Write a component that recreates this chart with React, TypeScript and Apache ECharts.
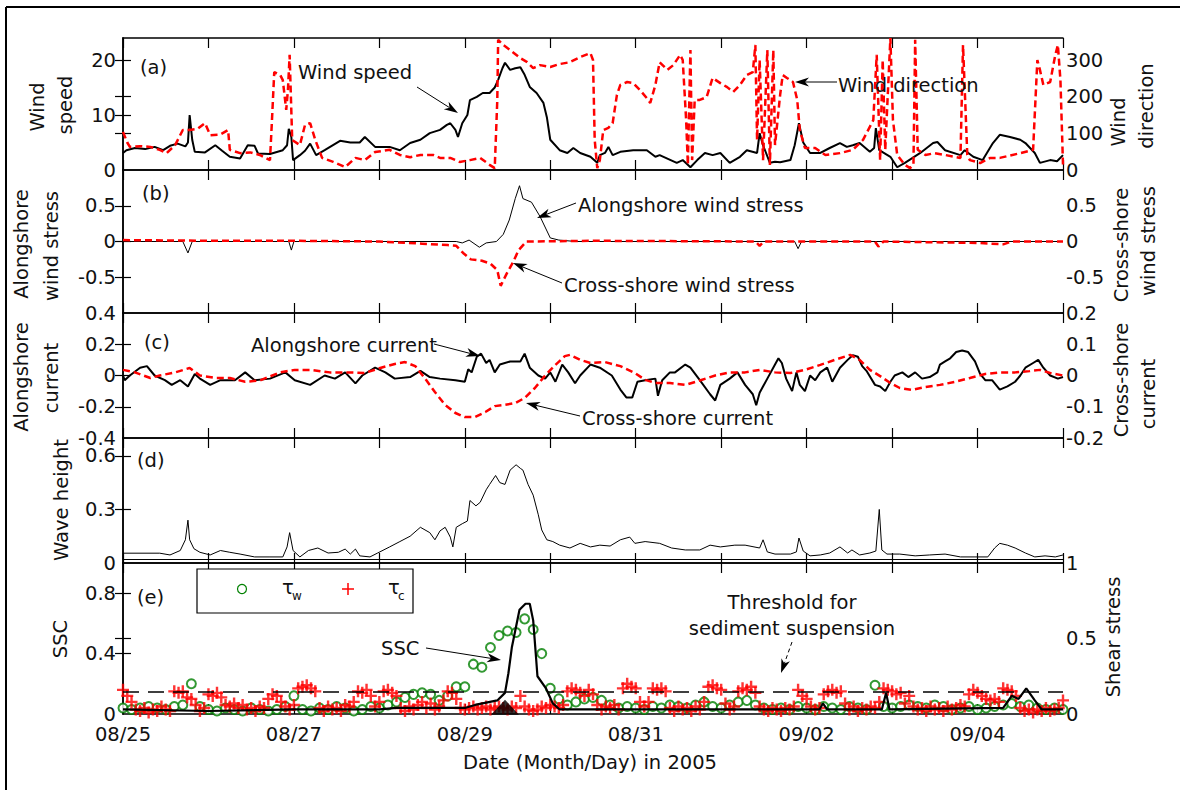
import React, { useEffect, useRef } from "react";
import * as echarts from "echarts";

const FONT = "DejaVu Sans";
const FS = 19.5;

// x axis: days since 08/25 00:00
const X_MIN = 0;
const X_MAX = 11;
const DATE_LABELS = ["08/25", "", "08/27", "", "08/29", "", "08/31", "", "09/02", "", "09/04", ""];

// (a) wind speed (m/s) and wind direction (deg)
const WIND_SPEED = [
  [0.00, 3.1], [0.04, 3.6], [0.14, 4.0], [0.26, 3.8], [0.37, 4.2], [0.47, 3.6], [0.55, 4.4], [0.64, 4.8], [0.73, 4.3], [0.76, 5.0],
  [0.78, 10.0], [0.81, 5.5], [0.84, 3.3], [0.96, 3.2], [1.08, 4.5], [1.16, 3.5], [1.25, 2.4], [1.37, 2.1], [1.46, 4.5], [1.54, 4.4],
  [1.58, 3.0], [1.72, 2.9], [1.87, 3.6], [1.92, 4.5], [1.94, 7.5], [1.97, 6.0], [1.99, 1.8], [2.07, 2.7], [2.13, 3.5], [2.19, 4.8],
  [2.26, 2.7], [2.36, 3.6], [2.54, 5.3], [2.66, 5.0], [2.77, 5.0], [2.83, 6.0], [2.95, 4.2], [3.12, 4.2], [3.24, 3.6], [3.36, 4.9],
  [3.48, 5.5], [3.59, 6.7], [3.71, 7.3], [3.79, 8.2], [3.83, 8.5], [3.89, 7.3], [3.92, 6.0], [3.97, 8.5], [4.03, 10.0], [4.06, 12.7],
  [4.14, 13.3], [4.21, 14.0], [4.29, 14.0], [4.35, 15.0], [4.39, 16.4], [4.44, 18.5], [4.47, 19.5], [4.53, 18.2], [4.59, 18.5], [4.65, 18.7],
  [4.70, 17.3], [4.76, 15.1], [4.84, 14.0], [4.92, 12.2], [4.96, 9.6], [5.00, 5.5], [5.11, 3.6], [5.20, 3.1], [5.27, 4.0], [5.35, 3.1],
  [5.47, 2.4], [5.55, 1.3], [5.58, 2.7], [5.64, 3.1], [5.68, 4.2], [5.73, 2.7], [5.82, 3.3], [5.97, 3.6], [6.13, 3.6], [6.23, 2.4],
  [6.28, 2.7], [6.48, 1.3], [6.55, 1.8], [6.64, 0.5], [6.72, 1.8], [6.81, 3.1], [6.90, 2.7], [6.99, 3.1], [7.10, 1.3], [7.22, 2.4],
  [7.30, 3.6], [7.42, 3.1], [7.45, 6.7], [7.49, 4.5], [7.57, 1.3], [7.63, 1.5], [7.69, 1.4], [7.81, 1.8], [7.86, 4.5], [7.91, 8.5],
  [7.96, 5.0], [8.04, 3.1], [8.16, 3.1], [8.27, 4.0], [8.39, 4.9], [8.47, 4.2], [8.54, 4.5], [8.62, 4.9], [8.74, 3.3], [8.79, 4.0],
  [8.81, 7.6], [8.85, 3.6], [8.98, 2.4], [9.06, 0.5], [9.15, 1.3], [9.33, 3.1], [9.48, 4.9], [9.53, 5.1], [9.62, 3.6], [9.80, 2.7],
  [9.85, 3.6], [9.95, 2.4], [10.06, 1.8], [10.18, 4.9], [10.26, 6.4], [10.38, 6.0], [10.50, 5.5], [10.56, 4.9], [10.67, 3.1], [10.73, 1.3],
  [10.85, 1.8], [10.93, 1.6], [11.00, 2.7],
];

const WIND_DIR = [
  [0.00, 104], [0.05, 75], [0.08, 63], [0.20, 65], [0.32, 63], [0.43, 55], [0.51, 46], [0.61, 68], [0.70, 109], [0.78, 109],
  [0.87, 112], [0.96, 128], [1.02, 95], [1.14, 97], [1.23, 109], [1.25, 55], [1.37, 46], [1.49, 48], [1.60, 41], [1.72, 27],
  [1.74, 120], [1.77, 267], [1.84, 259], [1.87, 245], [1.91, 164], [1.93, 218], [1.95, 314], [1.98, 82], [2.07, 68], [2.13, 123],
  [2.19, 128], [2.25, 82], [2.33, 33], [2.46, 22], [2.60, 8], [2.72, 33], [2.83, 27], [2.95, 49], [3.12, 55], [3.24, 41],
  [3.36, 35], [3.48, 41], [3.63, 41], [3.71, 33], [3.83, 33], [3.94, 22], [4.06, 27], [4.18, 33], [4.29, 14], [4.35, 5],
  [4.38, 191], [4.39, 355], [4.45, 341], [4.53, 327], [4.65, 305], [4.73, 294], [4.80, 278], [4.88, 286], [5.00, 281], [5.11, 289],
  [5.23, 294], [5.35, 308], [5.47, 319], [5.50, 300], [5.52, 82], [5.55, 5], [5.58, 27], [5.62, 109], [5.68, 115], [5.73, 128],
  [5.78, 205], [5.82, 232], [5.90, 240], [5.97, 237], [6.05, 218], [6.13, 196], [6.17, 183], [6.23, 232], [6.28, 294], [6.37, 273],
  [6.44, 286], [6.52, 314], [6.55, 300], [6.59, 136], [6.61, 14], [6.64, 327], [6.66, 27], [6.69, 191], [6.75, 191], [6.83, 199],
  [6.90, 251], [6.99, 237], [7.07, 226], [7.14, 213], [7.22, 232], [7.30, 259], [7.37, 267], [7.40, 341], [7.42, 82], [7.45, 300],
  [7.49, 27], [7.54, 327], [7.57, 14], [7.61, 327], [7.63, 68], [7.69, 205], [7.72, 259], [7.77, 251], [7.84, 240], [7.89, 191],
  [7.92, 109], [7.98, 60], [8.10, 60], [8.22, 41], [8.39, 46], [8.54, 55], [8.66, 82], [8.78, 136], [8.82, 314], [8.86, 27],
  [8.89, 300], [8.92, 55], [8.98, 360], [9.01, 136], [9.06, 41], [9.15, 14], [9.21, 5], [9.25, 14], [9.27, 355], [9.30, 55],
  [9.39, 41], [9.50, 46], [9.62, 41], [9.80, 33], [9.83, 341], [9.88, 41], [9.91, 27], [10.03, 19], [10.15, 33], [10.26, 33],
  [10.50, 46], [10.65, 55], [10.70, 300], [10.73, 273], [10.77, 232], [10.85, 240], [10.91, 314], [10.94, 341], [10.97, 245], [11.00, 14],
];

// (b) wind stress
const ALONG_STRESS = [
  [0.00, 0], [0.70, 0], [0.76, -0.16], [0.81, 0], [1.94, 0], [1.97, -0.12], [2.00, 0], [3.90, 0], [3.97, -0.02], [4.05, 0.02],
  [4.17, -0.08], [4.25, -0.02], [4.37, 0], [4.45, 0.1], [4.52, 0.3], [4.59, 0.6], [4.64, 0.78], [4.68, 0.6], [4.78, 0.55], [4.88, 0.35],
  [5.00, 0.05], [5.10, 0.02], [5.30, 0], [7.86, 0], [7.90, -0.1], [7.94, 0], [11.00, 0],
];
const CROSS_STRESS = [
  [0.00, 0.02], [1.00, 0.01], [2.00, 0.01], [3.00, 0], [3.50, -0.03], [3.80, -0.05], [3.90, -0.06], [3.98, -0.16], [4.07, -0.25], [4.20, -0.27],
  [4.30, -0.31], [4.38, -0.4], [4.42, -0.62], [4.49, -0.45], [4.56, -0.3], [4.63, -0.12], [4.72, 0], [5.50, 0.01], [7.40, 0], [7.45, -0.06],
  [7.50, 0], [8.80, 0], [8.84, -0.07], [8.90, 0], [10.00, -0.02], [10.30, -0.04], [10.40, 0], [11.00, 0],
];

// (c) currents
const ALONG_CURRENT = [
  [0.00, 0], [0.02, -0.03], [0.08, 0], [0.20, 0.05], [0.28, 0.06], [0.37, 0], [0.49, -0.03], [0.57, -0.06], [0.67, -0.03], [0.76, -0.07],
  [0.84, 0.01], [0.90, -0.02], [1.02, -0.06], [1.14, -0.03], [1.31, -0.03], [1.43, 0.02], [1.54, -0.03], [1.72, -0.02], [1.90, 0.02], [2.01, -0.03],
  [2.19, -0.06], [2.36, 0], [2.48, -0.02], [2.60, 0.02], [2.72, -0.05], [2.80, 0], [2.95, 0.05], [3.07, 0.02], [3.18, -0.02], [3.36, -0.01],
  [3.48, 0.03], [3.59, -0.01], [3.71, -0.02], [3.89, -0.03], [4.00, -0.04], [4.04, 0.04], [4.08, 0.02], [4.14, 0.12], [4.19, 0.14], [4.25, 0.08],
  [4.29, 0.10], [4.35, 0.02], [4.41, 0.07], [4.53, 0.09], [4.65, 0.09], [4.70, 0.14], [4.76, 0.05], [4.86, 0], [4.94, -0.02], [5.00, 0.02],
  [5.06, -0.04], [5.14, 0.07], [5.21, 0.02], [5.29, -0.05], [5.35, 0], [5.47, 0.07], [5.58, 0.05], [5.72, 0], [5.82, -0.09], [5.89, -0.14],
  [5.96, -0.14], [6.02, -0.04], [6.11, -0.03], [6.23, -0.02], [6.26, -0.13], [6.31, -0.03], [6.40, 0.02], [6.46, 0.02], [6.58, 0.07], [6.64, 0.05],
  [6.75, -0.03], [6.87, -0.12], [6.93, -0.16], [6.99, -0.06], [7.10, -0.02], [7.19, 0.02], [7.28, -0.06], [7.37, -0.12], [7.41, -0.19], [7.45, -0.11],
  [7.54, -0.02], [7.63, 0.07], [7.67, 0.11], [7.71, 0.08], [7.76, -0.02], [7.83, -0.1], [7.88, 0.02], [7.92, -0.06], [7.98, -0.1], [8.04, 0],
  [8.10, -0.03], [8.16, 0.02], [8.24, 0.05], [8.30, -0.04], [8.39, 0.05], [8.48, 0.1], [8.54, 0.13], [8.60, 0.12], [8.65, 0.06], [8.70, 0.03],
  [8.80, -0.06], [8.86, -0.07], [8.92, -0.1], [8.98, -0.04], [9.03, 0], [9.12, 0.02], [9.19, -0.01], [9.27, 0.02], [9.35, -0.02], [9.44, -0.01],
  [9.53, 0.02], [9.56, 0.07], [9.62, 0.09], [9.68, 0.11], [9.75, 0.15], [9.82, 0.16], [9.89, 0.15], [9.97, 0.09], [10.03, 0.01], [10.09, -0.03],
  [10.17, -0.03], [10.26, -0.09], [10.35, -0.07], [10.44, -0.04], [10.50, 0], [10.56, 0.05], [10.65, 0.08], [10.71, 0.10], [10.77, 0.05], [10.85, 0],
  [10.94, -0.02], [11.00, -0.01],
];
const CROSS_CURRENT = [
  [0.00, 0.018], [0.14, 0.01], [0.32, -0.008], [0.43, 0], [0.61, 0.01], [0.78, 0.024], [0.90, 0], [1.08, -0.008], [1.25, -0.008], [1.43, -0.02],
  [1.60, -0.016], [1.84, 0.01], [2.01, 0.018], [2.19, 0.018], [2.42, 0.01], [2.66, 0.01], [2.83, 0.008], [3.01, 0.024], [3.18, 0.037], [3.30, 0.043],
  [3.42, 0.03], [3.53, -0.008], [3.65, -0.053], [3.77, -0.094], [3.89, -0.12], [4.00, -0.133], [4.12, -0.133], [4.24, -0.117], [4.35, -0.098], [4.47, -0.094],
  [4.59, -0.088], [4.70, -0.072], [4.82, -0.04], [4.94, 0], [5.06, 0.034], [5.17, 0.062], [5.23, 0.066], [5.35, 0.05], [5.47, 0.04], [5.64, 0.043],
  [5.82, 0.03], [5.99, 0.008], [6.11, -0.014], [6.23, -0.024], [6.40, -0.024], [6.58, -0.03], [6.75, -0.016], [6.93, 0], [7.10, 0.01], [7.28, 0.01],
  [7.45, 0.018], [7.63, 0.01], [7.81, 0.008], [7.98, 0.018], [8.16, 0.034], [8.33, 0.05], [8.51, 0.066], [8.62, 0.05], [8.74, 0.018], [8.86, -0.002],
  [8.98, -0.024], [9.09, -0.04], [9.23, -0.046], [9.39, -0.037], [9.56, -0.03], [9.74, -0.02], [9.91, -0.008], [10.09, 0.005], [10.26, 0.01], [10.44, 0.01],
  [10.61, 0.014], [10.73, 0.018], [10.85, 0.008], [11.00, 0],
];

// (d) wave height
const WAVE_HEIGHT = [
  [0.00, 0.055], [0.43, 0.055], [0.55, 0.045], [0.67, 0.07], [0.73, 0.13], [0.76, 0.24], [0.78, 0.13], [0.83, 0.08], [0.90, 0.06], [1.02, 0.045],
  [1.14, 0.07], [1.25, 0.06], [1.37, 0.05], [1.54, 0.034], [1.72, 0.034], [1.87, 0.034], [1.92, 0.09], [1.95, 0.17], [1.99, 0.07], [2.07, 0.034],
  [2.17, 0.07], [2.28, 0.084], [2.40, 0.056], [2.52, 0.06], [2.60, 0.078], [2.66, 0.05], [2.72, 0.078], [2.77, 0.04], [2.89, 0.034], [2.98, 0.056],
  [3.12, 0.09], [3.24, 0.12], [3.36, 0.15], [3.48, 0.2], [3.59, 0.17], [3.65, 0.13], [3.71, 0.18], [3.77, 0.2], [3.83, 0.145], [3.86, 0.09],
  [3.90, 0.2], [3.97, 0.22], [4.03, 0.235], [4.06, 0.35], [4.13, 0.32], [4.18, 0.34], [4.25, 0.41], [4.29, 0.44], [4.36, 0.49], [4.41, 0.45],
  [4.47, 0.44], [4.53, 0.52], [4.60, 0.55], [4.65, 0.53], [4.68, 0.52], [4.74, 0.44], [4.80, 0.38], [4.86, 0.27], [4.90, 0.185], [4.96, 0.13],
  [5.03, 0.12], [5.11, 0.1], [5.23, 0.084], [5.35, 0.11], [5.47, 0.09], [5.58, 0.1], [5.70, 0.095], [5.82, 0.13], [5.93, 0.145], [5.99, 0.11],
  [6.11, 0.12], [6.28, 0.11], [6.42, 0.084], [6.58, 0.073], [6.75, 0.073], [6.87, 0.1], [6.99, 0.09], [7.16, 0.1], [7.28, 0.1], [7.45, 0.084],
  [7.49, 0.13], [7.54, 0.062], [7.63, 0.05], [7.81, 0.05], [7.88, 0.062], [7.91, 0.14], [7.96, 0.067], [8.04, 0.04], [8.16, 0.045], [8.27, 0.056],
  [8.39, 0.09], [8.48, 0.056], [8.53, 0.073], [8.62, 0.045], [8.74, 0.056], [8.81, 0.067], [8.85, 0.3], [8.88, 0.073], [8.94, 0.05], [9.09, 0.05],
  [9.27, 0.04], [9.44, 0.045], [9.62, 0.05], [9.80, 0.034], [9.97, 0.034], [10.12, 0.034], [10.20, 0.084], [10.26, 0.11], [10.35, 0.1], [10.44, 0.084],
  [10.56, 0.056], [10.67, 0.034], [10.79, 0.04], [10.91, 0.034], [11.00, 0.045],
];
const WAVE_BASELINE = 0.022;

// (e) SSC and shear stresses
const SSC = [
  [0.00, 0.03], [1.00, 0.02], [2.00, 0.03], [3.00, 0.03], [3.20, 0.04], [4.00, 0.04], [4.12, 0.06], [4.38, 0.09], [4.47, 0.14], [4.51, 0.27],
  [4.55, 0.44], [4.60, 0.58], [4.64, 0.69], [4.71, 0.73], [4.76, 0.73], [4.80, 0.62], [4.83, 0.4], [4.85, 0.25], [4.95, 0.17], [5.03, 0.07],
  [5.11, 0.03], [6.00, 0.03], [7.00, 0.03], [8.15, 0.03], [8.19, 0.07], [8.24, 0.03], [8.88, 0.03], [8.93, 0.14], [8.97, 0.03], [10.30, 0.04],
  [10.40, 0.12], [10.48, 0.1], [10.57, 0.17], [10.67, 0.09], [10.75, 0.03], [11.00, 0.03],
];
const THRESHOLD = 0.15;
const STORM_MARK = [[4.47, 0.045]];

const TAU_W_STEP = 0.1;
const TAU_W = [
  0.04, 0.03, 0.04, 0.05, 0.04, 0.03, 0.05, 0.06, 0.20, 0.05,
  0.03, 0.02, 0.04, 0.03, 0.02, 0.04, 0.03, 0.02, 0.03, 0.05,
  0.12, 0.03, 0.02, 0.04, 0.03, 0.05, 0.04, 0.02, 0.03, 0.05,
  0.04, 0.06, 0.08, 0.11, 0.13, 0.14, 0.13, 0.09, 0.12, 0.18,
  0.18, 0.33, 0.31, 0.44, 0.52, 0.55, 0.54, 0.63, 0.56, 0.40,
  0.17, 0.10, 0.06, 0.08, 0.10, 0.11, 0.09, 0.06, 0.04, 0.05,
  0.04, 0.03, 0.05, 0.04, 0.06, 0.05, 0.04, 0.06, 0.08, 0.05,
  0.04, 0.06, 0.08, 0.09, 0.06, 0.04, 0.03, 0.04, 0.03, 0.05,
  0.04, 0.03, 0.05, 0.04, 0.03, 0.05, 0.04, 0.03, 0.19, 0.05,
  0.04, 0.05, 0.06, 0.05, 0.04, 0.06, 0.05, 0.03, 0.04, 0.05,
  0.03, 0.04, 0.05, 0.06, 0.07, 0.05, 0.06, 0.04, 0.03, 0.04,
  0.03,
];
const TAU_C_STEP = 0.05;
const TAU_C = [
  0.16, 0.12, 0.08, 0.03, 0.02, 0.04, 0.01, 0.03, 0.02, 0.05,
  0.03, 0.02, 0.15, 0.14, 0.15, 0.11, 0.10, 0.06, 0.02, 0.04,
  0.13, 0.12, 0.14, 0.11, 0.06, 0.05, 0.07, 0.04, 0.06, 0.03,
  0.04, 0.02, 0.05, 0.04, 0.10, 0.13, 0.12, 0.08, 0.05, 0.03,
  0.06, 0.17, 0.18, 0.19, 0.17, 0.15, 0.04, 0.02, 0.05, 0.03,
  0.04, 0.02, 0.06, 0.05, 0.08, 0.15, 0.14, 0.16, 0.12, 0.05,
  0.08, 0.15, 0.16, 0.14, 0.12, 0.04, 0.02, 0.05, 0.03, 0.06,
  0.08, 0.04, 0.07, 0.03, 0.05, 0.09, 0.15, 0.14, 0.10, 0.04,
  0.03, 0.04, 0.05, 0.03, 0.04, 0.05, 0.03, 0.04, 0.05, 0.04,
  0.03, 0.05, 0.04, 0.12, 0.05, 0.03, 0.02, 0.03, 0.05, 0.04,
  0.06, 0.05, 0.04, 0.06, 0.15, 0.17, 0.16, 0.14, 0.12, 0.16,
  0.13, 0.06, 0.03, 0.05, 0.04, 0.06, 0.03, 0.17, 0.20, 0.18,
  0.17, 0.08, 0.05, 0.08, 0.17, 0.16, 0.17, 0.15, 0.04, 0.02,
  0.05, 0.03, 0.04, 0.02, 0.05, 0.03, 0.08, 0.18, 0.19, 0.17,
  0.16, 0.07, 0.03, 0.05, 0.15, 0.17, 0.16, 0.18, 0.14, 0.05,
  0.03, 0.02, 0.04, 0.03, 0.02, 0.04, 0.03, 0.05, 0.16, 0.12,
  0.10, 0.05, 0.03, 0.04, 0.13, 0.15, 0.16, 0.14, 0.15, 0.07,
  0.03, 0.05, 0.02, 0.04, 0.03, 0.05, 0.04, 0.08, 0.17, 0.16,
  0.15, 0.13, 0.14, 0.07, 0.12, 0.05, 0.03, 0.04, 0.02, 0.05,
  0.03, 0.04, 0.02, 0.05, 0.03, 0.04, 0.06, 0.05, 0.13, 0.16,
  0.14, 0.12, 0.10, 0.09, 0.10, 0.08, 0.17, 0.16, 0.15, 0.12,
  0.04, 0.02, 0.03, 0.01, 0.03, 0.02, 0.04, 0.02, 0.03, 0.04,
  0.09,
];

// panel layout (pixels)
const GRID_LEFT = 123;
const GRID_RIGHT = 117;
const PANELS = [
  { top: 38, height: 132 },
  { top: 170, height: 143 },
  { top: 313, height: 125 },
  { top: 438, height: 125 },
  { top: 563, height: 151 },
];

const INK = "#111";
const RED = "#ff0000";
const GREEN = "#008000";

function yAx(gi: number, pos: string, min: number, max: number, labels: number[], ticks: number[]) {
  return {
    type: "value",
    gridIndex: gi,
    position: pos,
    min,
    max,
    splitLine: { show: false },
    axisLine: { show: true, lineStyle: { color: "#000", width: 1.5 } },
    axisTick: { show: ticks.length > 0, inside: true, length: 8, customValues: ticks, lineStyle: { color: "#000", width: 1.2 } },
    axisLabel: {
      show: labels.length > 0,
      customValues: labels,
      margin: pos === "left" ? 7 : 3,
      color: INK,
      fontFamily: FONT,
      fontSize: FS,
    },
  };
}

function xAx(gi: number, pos: string, withLabels: boolean) {
  return {
    type: "value",
    gridIndex: gi,
    position: pos,
    min: X_MIN,
    max: X_MAX,
    interval: 1,
    splitLine: { show: false },
    axisLine: { show: true, onZero: false, lineStyle: { color: "#000", width: 1.5 } },
    axisTick: { show: true, inside: true, length: 10, lineStyle: { color: "#000", width: 1.2 } },
    axisLabel: {
      show: withLabels,
      margin: 10,
      color: INK,
      fontFamily: FONT,
      fontSize: FS,
      formatter: (v: number) => DATE_LABELS[Math.round(v)] ?? "",
    },
  };
}

function txt(text: string, x: number, y: number, align = "left", rot = 0, size = FS) {
  return {
    type: "text",
    x,
    y,
    rotation: rot,
    z: 100,
    style: { text, fontFamily: FONT, fontSize: size, fill: INK, align, verticalAlign: "middle" },
  };
}

function arrow(x1: number, y1: number, x2: number, y2: number, dashed = false) {
  const dx = x2 - x1;
  const dy = y2 - y1;
  const len = Math.hypot(dx, dy);
  const ux = dx / len;
  const uy = dy / len;
  const L = 14;
  const W = 4.5;
  const bx = x2 - ux * L;
  const by = y2 - uy * L;
  return [
    {
      type: "line",
      z: 100,
      shape: { x1, y1, x2: bx + ux * 4, y2: by + uy * 4 },
      style: { stroke: "#000", lineWidth: 1, lineDash: dashed ? [4, 3] : null },
    },
    {
      type: "polygon",
      z: 100,
      shape: {
        points: [
          [x2, y2],
          [bx - uy * W, by + ux * W],
          [bx + ux * 4, by + uy * 4],
          [bx + uy * W, by - ux * W],
        ],
      },
      style: { fill: "#000" },
    },
  ];
}

function lineSeries(data: number[][], xi: number, yi: number, color: string, width: number, dashed: boolean, extra: any = {}) {
  return {
    type: "line",
    xAxisIndex: xi,
    yAxisIndex: yi,
    data,
    symbol: "none",
    showSymbol: false,
    clip: true,
    lineStyle: { color, width, type: dashed ? [7, 4] : "solid" },
    ...extra,
  };
}

const PLUS_PATH = "path://M4,0h2v4h4v2h-4v4h-2v-4h-4v-2h4z";

export default function App() {
  const ref = useRef<HTMLDivElement>(null);

  useEffect(() => {
    if (!ref.current) return;
    const chart = echarts.init(ref.current, undefined, { renderer: "svg" });

    const sc = 24 / 360; // wind speed per degree, for shared tick marks

    const option: any = {
      animation: false,
      backgroundColor: "#fff",
      grid: PANELS.map((p) => ({ left: GRID_LEFT, right: GRID_RIGHT, top: p.top, height: p.height })),
      xAxis: [
        xAx(0, "bottom", false), xAx(0, "top", false),
        xAx(1, "bottom", false), xAx(1, "top", false),
        xAx(2, "bottom", false), xAx(2, "top", false),
        xAx(3, "bottom", false), xAx(3, "top", false),
        xAx(4, "bottom", true), xAx(4, "top", false),
      ],
      yAxis: [
        yAx(0, "left", 0, 24, [0, 10, 20], [10, 20, 100 * sc, 200 * sc]),
        yAx(0, "right", 0, 360, [0, 100, 200, 300], [100, 150, 200, 300]),
        yAx(1, "left", -1, 1, [-0.5, 0, 0.5], [-0.5, 0, 0.5]),
        yAx(1, "right", -1, 1, [-0.5, 0, 0.5], [-0.5, 0, 0.5]),
        yAx(2, "left", -0.4, 0.4, [-0.4, -0.2, 0, 0.2, 0.4], [-0.2, 0, 0.2]),
        yAx(2, "right", -0.2, 0.2, [-0.2, -0.1, 0, 0.1, 0.2], [-0.1, 0, 0.1]),
        yAx(3, "left", 0, 0.7, [0, 0.3, 0.6], [0.3, 0.6]),
        yAx(3, "right", 0, 0.7, [], [0.3, 0.6]),
        yAx(4, "left", 0, 1, [0, 0.4, 0.8], [0.4, 0.5, 0.8]),
        yAx(4, "right", 0, 1, [0, 0.5, 1], [0.4, 0.5, 0.8]),
      ],
      series: [
        lineSeries(WIND_SPEED, 0, 0, "#000", 2, false),
        lineSeries(WIND_DIR, 0, 1, RED, 2.5, true),
        lineSeries(ALONG_STRESS, 2, 2, "#000", 1, false),
        lineSeries(CROSS_STRESS, 2, 3, RED, 2.5, true),
        lineSeries(ALONG_CURRENT, 4, 4, "#000", 2, false),
        lineSeries(CROSS_CURRENT, 4, 5, RED, 2.5, true),
        lineSeries(WAVE_HEIGHT, 6, 6, "#000", 1, false, {
          markLine: {
            silent: true,
            symbol: ["none", "none"],
            label: { show: false },
            lineStyle: { color: "#000", width: 1, type: "solid" },
            data: [{ yAxis: WAVE_BASELINE }],
          },
        }),
        {
          type: "scatter",
          xAxisIndex: 8,
          yAxisIndex: 9,
          data: TAU_W.map((v, i) => [i * TAU_W_STEP, v]),
          symbol: "emptyCircle",
          symbolSize: 9,
          itemStyle: { color: GREEN, borderColor: GREEN, borderWidth: 1.2 },
          markLine: {
            silent: true,
            symbol: ["none", "none"],
            label: { show: false },
            lineStyle: { color: "#000", width: 1.5, type: [16, 9] },
            data: [{ yAxis: THRESHOLD }],
          },
        },
        {
          type: "scatter",
          xAxisIndex: 8,
          yAxisIndex: 9,
          data: TAU_C.map((v, i) => [i * TAU_C_STEP, v]),
          symbol: PLUS_PATH,
          symbolSize: 12,
          itemStyle: { color: RED },
        },
        lineSeries(SSC, 8, 8, "#000", 2.2, false),
        {
          type: "scatter",
          xAxisIndex: 8,
          yAxisIndex: 8,
          z: 20,
          clip: false,
          data: STORM_MARK,
          symbol: "triangle",
          symbolSize: [28, 15],
          itemStyle: { color: "#000" },
        },
      ],
      graphic: [
        // figure frame (top and left edges)
        { type: "line", shape: { x1: 6, y1: 7, x2: 1180, y2: 7 }, style: { stroke: "#000", lineWidth: 2 } },
        { type: "line", shape: { x1: 6, y1: 7, x2: 6, y2: 790 }, style: { stroke: "#000", lineWidth: 2 } },
        // left axis titles
        txt("Wind", 37, 107, "center", Math.PI / 2),
        txt("speed", 65, 105, "center", Math.PI / 2),
        txt("Alongshore", 21, 244, "center", Math.PI / 2),
        txt("wind stress", 51, 246, "center", Math.PI / 2),
        txt("Alongshore", 21, 377, "center", Math.PI / 2),
        txt("current", 51, 378, "center", Math.PI / 2),
        txt("Wave height", 61, 500, "center", Math.PI / 2),
        txt("SSC", 60, 639, "center", Math.PI / 2),
        // right axis titles
        txt("Wind", 1118, 122, "center", Math.PI / 2),
        txt("direction", 1146, 106, "center", Math.PI / 2),
        txt("Cross-shore", 1121, 245, "center", Math.PI / 2),
        txt("wind stress", 1148, 241, "center", Math.PI / 2),
        txt("Cross-shore", 1121, 380, "center", Math.PI / 2),
        txt("current", 1148, 394, "center", Math.PI / 2),
        txt("Shear stress", 1113, 637, "center", Math.PI / 2),
        // x axis title
        txt("Date (Month/Day) in 2005", 590, 762, "center"),
        // panel letters
        txt("(a)", 140, 67),
        txt("(b)", 142, 193),
        txt("(c)", 144, 342),
        txt("(d)", 137, 460),
        txt("(e)", 137, 597),
        // annotations
        txt("Wind speed", 298, 72),
        ...arrow(417, 87, 458, 113),
        txt("Wind direction", 838, 85),
        ...arrow(837, 82, 795, 82),
        txt("Alongshore wind stress", 578, 205),
        ...arrow(576, 203, 537, 218),
        txt("Cross-shore wind stress", 564, 285),
        ...arrow(562, 283, 513, 263),
        txt("Alongshore current", 251, 345),
        ...arrow(434, 344, 480, 356),
        txt("Cross-shore current", 582, 418),
        ...arrow(580, 416, 526, 403),
        txt("SSC", 381, 648),
        ...arrow(426, 648, 501, 660),
        txt("Threshold for", 792, 602, "center"),
        txt("sediment suspension", 792, 628, "center"),
        ...arrow(792, 642, 781, 673, true),
        // legend box
        {
          type: "rect",
          z: 99,
          shape: { x: 197, y: 569, width: 216, height: 44 },
          style: { fill: "#fff", stroke: "#000", lineWidth: 1.2 },
        },
        { type: "circle", z: 100, shape: { cx: 242, cy: 589, r: 4.5 }, style: { fill: "none", stroke: GREEN, lineWidth: 1.2 } },
        txt("τ", 282, 587),
        txt("w", 292, 596, "left", 0, 12),
        { type: "line", z: 100, shape: { x1: 342, y1: 589, x2: 354, y2: 589 }, style: { stroke: RED, lineWidth: 1.5 } },
        { type: "line", z: 100, shape: { x1: 348, y1: 583, x2: 348, y2: 595 }, style: { stroke: RED, lineWidth: 1.5 } },
        txt("τ", 388, 587),
        txt("c", 398, 596, "left", 0, 12),
      ],
    };

    chart.setOption(option);
    return () => chart.dispose();
  }, []);

  return (
    <div
      ref={ref}
      style={{ position: "fixed", left: 0, top: 0, width: 1180, height: 790, background: "#fff" }}
    />
  );
}
